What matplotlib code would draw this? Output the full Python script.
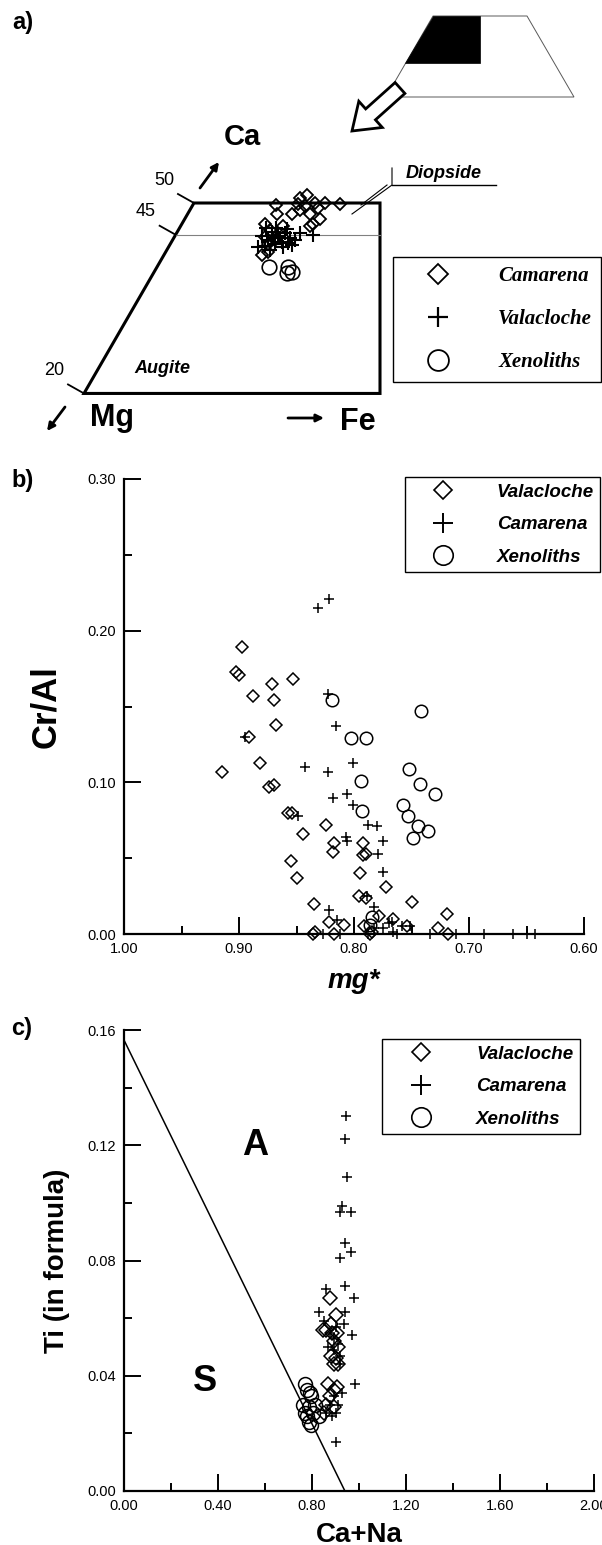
import matplotlib
matplotlib.use("Agg")
import matplotlib.pyplot as plt
from matplotlib.lines import Line2D
from matplotlib.patches import Polygon, FancyArrow
import numpy as np

W, H = 602, 1545
SANS = "Liberation Sans"
SERIF = "Liberation Serif"
plt.rcParams["font.family"] = [SANS, "DejaVu Sans"]

# ---- a) pyroxene quadrilateral: Wo (Ca) and Fs (Fe), mol %
cam_a_fs = [11.3, 14.1, 14.8, 16.5, 17.9, 20.0, 12.2, 11.3, 15.0, 16.7, 18.4, 17.9,
            14.0, 13.4, 14.3, 15.4, 14.2, 17.3, 12.5, 14.0, 12.3, 13.9, 17.6, 13.3]
cam_a_wo = [49.7, 50.8, 51.3, 50.0, 50.0, 49.8, 48.3, 46.7, 48.9, 48.3, 47.5, 46.7,
            42.3, 41.8, 49.8, 49.5, 48.3, 49.2, 45.7, 44.2, 44.7, 46.4, 46.4, 43.5]
val_a_fs = [12.9, 14.1, 14.8, 15.9, 13.0, 14.3, 15.1, 13.1, 12.2, 16.8, 18.7, 16.7,
            14.1, 14.7, 11.9, 13.1, 16.7, 14.5, 15.6, 11.8, 16.0, 13.6]
val_a_wo = [45.4, 44.8, 45.3, 44.5, 44.2, 43.5, 43.9, 43.2, 43.1, 45.3, 45.0, 44.2,
            42.6, 45.9, 44.8, 46.1, 43.4, 44.5, 43.1, 46.0, 43.7, 44.5]
xen_a_fs = [15.3, 17.9, 18.8, 18.2]
xen_a_wo = [39.9, 39.9, 39.1, 39.0]
wo_ticks = [50, 45, 20]

# ---- b) Cr/Al vs mg*
val_b_mg = [0.897, 0.903, 0.900, 0.871, 0.853, 0.888, 0.870, 0.868, 0.891, 0.882, 0.915,
            0.874, 0.870, 0.857, 0.854, 0.824, 0.844, 0.817, 0.792, 0.818, 0.792, 0.790,
            0.855, 0.850, 0.795, 0.772, 0.796, 0.790, 0.750, 0.835, 0.719, 0.822, 0.809,
            0.778, 0.766, 0.791, 0.727, 0.718, 0.836, 0.834, 0.817, 0.786, 0.784, 0.754]
val_b_cr = [0.189, 0.173, 0.171, 0.165, 0.168, 0.157, 0.154, 0.138, 0.130, 0.113, 0.107,
            0.097, 0.098, 0.080, 0.080, 0.072, 0.066, 0.060, 0.060, 0.054, 0.052, 0.053,
            0.048, 0.037, 0.040, 0.031, 0.025, 0.024, 0.021, 0.020, 0.013, 0.008, 0.006,
            0.012, 0.010, 0.005, 0.004, 0.000, 0.000, 0.001, 0.000, 0.000, 0.001, 0.005]
cam_b_mg = [0.831, 0.822, 0.823, 0.816, 0.895, 0.843, 0.823, 0.801, 0.818, 0.806, 0.849,
            0.801, 0.788, 0.780, 0.807, 0.806, 0.775, 0.779, 0.775, 0.789, 0.783, 0.822,
            0.815, 0.770, 0.767, 0.758, 0.751, 0.775, 0.766, 0.827, 0.783,
            0.812, 0.788, 0.763, 0.734, 0.711, 0.687, 0.662, 0.650, 0.643]
cam_b_cr = [0.215, 0.221, 0.158, 0.137, 0.130, 0.110, 0.107, 0.113, 0.090, 0.092, 0.078,
            0.085, 0.072, 0.071, 0.064, 0.061, 0.061, 0.053, 0.041, 0.025, 0.018, 0.016,
            0.009, 0.007, 0.008, 0.005, 0.005, 0.004, 0.001, 0.000, 0.004,
            0.000, 0.000, 0.000, 0.000, 0.000, 0.000, 0.000, 0.000, 0.000]
xen_b_mg = [0.819, 0.742, 0.803, 0.790, 0.752, 0.794, 0.743, 0.730, 0.757, 0.793,
            0.753, 0.744, 0.736, 0.749, 0.784, 0.786]
xen_b_cr = [0.154, 0.147, 0.129, 0.129, 0.109, 0.101, 0.099, 0.092, 0.085, 0.081,
            0.078, 0.071, 0.068, 0.063, 0.011, 0.006]

# ---- c) Ti vs Ca+Na
val_c_cana = [0.875, 0.903, 0.845, 0.881, 0.908, 0.894, 0.911, 0.881, 0.903, 0.894,
              0.911, 0.870, 0.894, 0.908, 0.878, 0.861, 0.894, 0.853, 0.861, 0.886]
val_c_ti = [0.067, 0.061, 0.056, 0.058, 0.055, 0.052, 0.050, 0.047, 0.046, 0.044,
            0.044, 0.037, 0.035, 0.036, 0.033, 0.030, 0.029, 0.027, 0.056, 0.055]
cam_c_cana = [0.944, 0.939, 0.949, 0.927, 0.919, 0.964, 0.939, 0.965, 0.919, 0.858,
              0.939, 0.980, 0.828, 0.941, 0.853, 0.936, 0.970, 0.894, 0.919, 0.985,
              0.903, 0.894, 0.878, 0.911, 0.886, 0.903, 0.870, 0.894, 0.911, 0.919,
              0.903, 0.878, 0.927, 0.861]
cam_c_ti = [0.130, 0.122, 0.109, 0.099, 0.097, 0.097, 0.086, 0.083, 0.081, 0.070,
            0.071, 0.067, 0.062, 0.062, 0.059, 0.058, 0.054, 0.053, 0.047, 0.037,
            0.017, 0.033, 0.030, 0.030, 0.026, 0.027, 0.050, 0.049, 0.051, 0.044,
            0.057, 0.055, 0.034, 0.027]
xen_c_cana = [0.771, 0.779, 0.795, 0.762, 0.787, 0.779, 0.804, 0.828, 0.787, 0.795,
              0.771, 0.812, 0.792]
xen_c_ti = [0.037, 0.035, 0.033, 0.030, 0.029, 0.026, 0.027, 0.026, 0.024, 0.023,
            0.027, 0.030, 0.034]
boundary_cana = [0.0, 0.94]
boundary_ti = [0.1565, 0.0]

b_xticks = [1.0, 0.9, 0.8, 0.7, 0.6]
b_yticks = [0.0, 0.1, 0.2, 0.3]
c_xticks = [0.0, 0.4, 0.8, 1.2, 1.6, 2.0]
c_yticks = [0.0, 0.04, 0.08, 0.12, 0.16]


def fig_xy(x, y):
    return x / W, 1 - y / H


# panel a works in pixel-like units: 7.33 px per percent
K_A, X0_A, Y0_A = 7.33, 10.7, 520.4


def px_a(x, y):
    return (x - X0_A) / K_A, (Y0_A - y) / K_A


def tern(fs, wo):
    fs = np.asarray(fs, float)
    wo = np.asarray(wo, float)
    return fs + wo / 2, wo * np.sqrt(3) / 2


def open_marker(marker, ms, mew):
    return dict(ls="none", marker=marker, ms=ms, mfc="none", mec="black", mew=mew, clip_on=False)


fig = plt.figure(figsize=(W / 100, H / 100), dpi=100)

# ================= a) =================
ax_a = fig.add_axes([0, 1 - 460 / H, 1, 460 / H])
ax_a.set_xlim(px_a(0, 0)[0], px_a(W, 0)[0])
ax_a.set_ylim(px_a(0, 460)[1], px_a(0, 0)[1])
ax_a.axis("off")

x_right = px_a(380, 0)[0]
tl, bl = tern(0, 50), tern(0, 20)
quad = Polygon([tl, (x_right, tl[1]), (x_right, bl[1]), bl], closed=True,
               fill=False, ec="black", lw=2.2, joinstyle="miter")
ax_a.add_patch(quad)
l45 = tern(0, 45)
ax_a.plot([l45[0], x_right], [l45[1], l45[1]], color="0.5", lw=0.8)
for wo in wo_ticks:
    tx, ty = tern(0, wo)
    ax_a.plot([tx, tx - 16 / K_A], [ty, ty + 9 / K_A], color="black", lw=1.3)
    ax_a.text(tx - 30 / K_A, ty + 23 / K_A, str(wo), ha="center", va="center", fontsize=13)

x, y = tern(cam_a_fs, cam_a_wo)
ax_a.plot(x, y, **open_marker("D", 6.4, 1.3))
x, y = tern(val_a_fs, val_a_wo)
ax_a.plot(x, y, **open_marker("+", 9.5, 1.5))
x, y = tern(xen_a_fs, xen_a_wo)
ax_a.plot(x, y, **open_marker("o", 10.5, 1.2))

ax_a.text(*px_a(242, 137), "Ca", fontsize=21, weight="bold", ha="center", va="center")
ax_a.text(*px_a(112, 418), "Mg", fontsize=22, weight="bold", ha="center", va="center")
ax_a.text(*px_a(358, 422), "Fe", fontsize=22, weight="bold", ha="center", va="center")
arrow_kw = dict(arrowstyle="-|>", lw=2, color="black", mutation_scale=11, shrinkA=0, shrinkB=0)
ax_a.annotate("", xy=px_a(219, 162), xytext=px_a(200, 188), arrowprops=arrow_kw)
ax_a.annotate("", xy=px_a(47, 431), xytext=px_a(65, 407), arrowprops=arrow_kw)
ax_a.annotate("", xy=px_a(324, 418), xytext=px_a(288, 418), arrowprops=arrow_kw)

ax_a.text(*px_a(444, 173), "Diopside", fontsize=13, weight="bold", style="italic",
          ha="center", va="center")
ax_a.plot(*zip(px_a(392, 185), px_a(496, 185)), color="black", lw=1)
ax_a.plot(*zip(px_a(392, 168), px_a(392, 185), px_a(352, 214)), color="black", lw=0.8)
ax_a.plot(*zip(px_a(387, 185), px_a(361, 205)), color="black", lw=0.8)
ax_a.text(*px_a(162, 368), "Augite", fontsize=13, weight="bold", style="italic",
          ha="center", va="center")

# small quadrilateral sketch with the enlarged field
ax_a.add_patch(Polygon([px_a(433, 16), px_a(527, 16), px_a(574, 97), px_a(386, 97)],
                       closed=True, fill=False, ec="0.35", lw=0.7))
ax_a.add_patch(Polygon([px_a(433, 16), px_a(480, 16), px_a(480, 63), px_a(405, 63)],
                       closed=True, fc="black", ec="black", lw=0.5))
tail, tip = px_a(400, 88), px_a(352, 131)
ax_a.add_patch(FancyArrow(tail[0], tail[1], tip[0] - tail[0], tip[1] - tail[1],
                          width=2.0, head_width=4.8, head_length=3.4,
                          length_includes_head=True, fc="white", ec="black", lw=2))

handles_a = [Line2D([], [], **open_marker("D", 10.5, 1.3)),
             Line2D([], [], **open_marker("+", 15, 1.6)),
             Line2D([], [], **open_marker("o", 15, 1.3))]
leg = ax_a.legend(handles_a, ["Camarena", "Valacloche", "Xenoliths"], loc="upper left",
                  bbox_to_anchor=fig_xy(393, 257), bbox_transform=fig.transFigure,
                  borderaxespad=0, frameon=True, fancybox=False, edgecolor="black",
                  framealpha=1, numpoints=1, borderpad=0.45, labelspacing=1.1,
                  handlelength=3.4, handletextpad=1.2,
                  prop=dict(family=SERIF, weight="bold", style="italic", size=15))
leg.get_frame().set_linewidth(1.0)


def style_axes(ax, xticks, yticks, xminor, yminor, fmt):
    for side in ("top", "right"):
        ax.spines[side].set_visible(False)
    for side in ("left", "bottom"):
        ax.spines[side].set_linewidth(1.6)
    ax.set_xticks(xticks, [fmt.format(v) for v in xticks])
    ax.set_yticks(yticks, [fmt.format(v) for v in yticks])
    ax.set_xticks(xminor, minor=True)
    ax.set_yticks(yminor, minor=True)
    ax.tick_params(which="major", direction="in", length=12, width=1.4, labelsize=10.5, pad=6)
    ax.tick_params(which="minor", direction="in", length=6, width=1.4)
    ax.patch.set_alpha(0)


def panel_legend(ax, x, y, labels, handlelength, textpad):
    handles = [Line2D([], [], **open_marker("D", 9.3, 1.2)),
               Line2D([], [], **open_marker("+", 14, 1.4)),
               Line2D([], [], **open_marker("o", 14, 1.2))]
    lg = ax.legend(handles, labels, loc="upper left", bbox_to_anchor=fig_xy(x, y),
                   bbox_transform=fig.transFigure, borderaxespad=0, frameon=True,
                   fancybox=False, edgecolor="black", framealpha=1, numpoints=1,
                   borderpad=0.35, labelspacing=0.82, handlelength=handlelength,
                   handletextpad=textpad,
                   prop=dict(family=SANS, weight="bold", style="italic", size=13.5))
    lg.get_frame().set_linewidth(1.0)


# ================= b) =================
ax_b = fig.add_axes([124 / W, 1 - 934 / H, 460 / W, 455 / H])
ax_b.plot(val_b_mg, val_b_cr, **open_marker("D", 5.8, 1.1))
ax_b.plot(cam_b_mg, cam_b_cr, **open_marker("+", 6.5, 1.1))
ax_b.plot(xen_b_mg, xen_b_cr, **open_marker("o", 9, 1.1))
ax_b.set_xlim(1.0, 0.6)
ax_b.set_ylim(0, 0.30)
style_axes(ax_b, b_xticks, b_yticks, [0.95, 0.85, 0.75, 0.65], [0.05, 0.15, 0.25], "{:.2f}")
ax_b.set_ylabel("Cr/Al", fontsize=25, weight="bold")
ax_b.yaxis.set_label_coords(-0.135, 0.5)
ax_b.set_xlabel("mg*", fontsize=20, weight="bold", style="italic")
ax_b.xaxis.set_label_coords(0.5, -0.075)
panel_legend(ax_b, 405, 477, ["Valacloche", "Camarena", "Xenoliths"], 3.3, 1.24)

# ================= c) =================
ax_c = fig.add_axes([124 / W, 1 - 1491 / H, 470 / W, 461 / H])
ax_c.plot(boundary_cana, boundary_ti, color="black", lw=1.1)
ax_c.plot(val_c_cana, val_c_ti, **open_marker("D", 7, 1.1))
ax_c.plot(cam_c_cana, cam_c_ti, **open_marker("+", 7.5, 1.1))
ax_c.plot(xen_c_cana, xen_c_ti, **open_marker("o", 10, 1.1))
ax_c.set_xlim(0, 2.0)
ax_c.set_ylim(0, 0.16)
style_axes(ax_c, c_xticks, c_yticks, [0.2, 0.6, 1.0, 1.4, 1.8],
           [0.02, 0.06, 0.10, 0.14], "{:.2f}")
ax_c.text(0.56, 0.12, "A", fontsize=26, weight="bold", ha="center", va="center")
ax_c.text(0.345, 0.038, "S", fontsize=26, weight="bold", ha="center", va="center")
ax_c.set_ylabel("Ti (in formula)", fontsize=20, weight="bold")
ax_c.yaxis.set_label_coords(-0.115, 0.5)
ax_c.set_xlabel("Ca+Na", fontsize=20, weight="bold")
ax_c.xaxis.set_label_coords(0.5, -0.067)
panel_legend(ax_c, 382, 1039, ["Valacloche", "Camarena", "Xenoliths"], 3.5, 1.18)

for label, (lx, ly) in [("a)", (23, 22)), ("b)", (23, 480)), ("c)", (22, 1029))]:
    fig.text(*fig_xy(lx, ly), label, fontsize=17, weight="bold", ha="center", va="center")

fig.savefig("out.png", dpi=100)
plt.close(fig)
